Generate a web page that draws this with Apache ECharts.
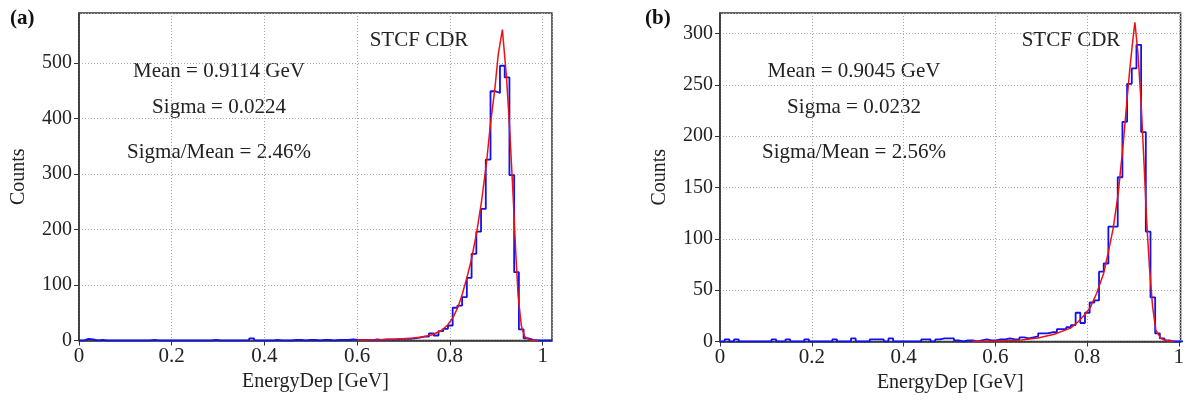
<!DOCTYPE html>
<html>
<head>
<meta charset="utf-8">
<script src="https://cdn.jsdelivr.net/npm/echarts@6/dist/echarts.min.js"></script>
<style>
  html, body { margin: 0; padding: 0; background: #fff; }
  #chart { width: 1187px; height: 400px; }
</style>
</head>
<body>
<div id="chart"></div>
<script>
// Histogram binning: 100 bins over 0 .. 1.02 GeV
const binStart = 0;
const binWidth = 0.0102;

// (a) bin contents
const countsA = [
  0, 3, 2, 0, 1, 0, 0, 0, 0, 0,
  0, 0, 0, 0, 0, 1, 0, 0, 0, 0,
  0, 0, 0, 0, 0, 0, 0, 0, 1, 0,
  0, 0, 0, 0, 0, 0, 4, 0, 0, 0,
  0, 1, 0, 0, 0, 1, 1, 0, 1, 1,
  0, 1, 1, 0, 1, 1, 1, 2, 1, 1,
  1, 0, 2, 1, 2, 2, 2, 3, 3, 3,
  4, 5, 7, 7, 13, 9, 17, 21, 27, 59,
  63, 78, 113, 156, 196, 237, 326, 449, 446, 495,
  474, 298, 123, 20, 4, 1, 0, 0, 0, 0
];

// (b) bin contents
const countsB = [
  0, 2, 0, 2, 0, 0, 0, 0, 0, 0,
  0, 2, 0, 0, 2, 0, 0, 0, 2, 0,
  0, 0, 0, 0, 2, 0, 0, 0, 3, 0,
  0, 0, 2, 2, 2, 0, 3, 0, 0, 0,
  0, 0, 0, 2, 2, 0, 2, 3, 3, 3,
  1, 0, 1, 1, 0, 1, 2, 1, 1, 2,
  2, 3, 2, 2, 4, 3, 4, 5, 8, 8,
  9, 9, 12, 12, 14, 16, 28, 18, 28, 38,
  40, 68, 76, 112, 112, 160, 214, 251, 266, 289,
  204, 107, 43, 8, 3, 1, 0, 0, 0, 0
];

// fitted curves (energy in GeV, counts)
const fitEnergyA = [0.60, 0.65, 0.69, 0.72, 0.74, 0.76, 0.78, 0.795, 0.807, 0.817, 0.826, 0.836, 0.846, 0.857, 0.868, 0.879, 0.887, 0.897, 0.904, 0.913, 0.922, 0.929, 0.936, 0.942, 0.947, 0.954, 0.961, 0.972, 0.99];
const fitCountsA = [1, 1.5, 2.5, 4.5, 6.5, 10, 17, 28, 42, 60, 82, 112, 145, 192, 250, 322, 388, 455, 515, 560, 473, 377, 263, 156, 80, 26, 7, 1, 0];

const fitEnergyB = [0.55, 0.60, 0.657, 0.693, 0.7285, 0.764, 0.78, 0.793, 0.807, 0.821, 0.836, 0.846, 0.857, 0.868, 0.879, 0.886, 0.893, 0.900, 0.9044, 0.911, 0.918, 0.925, 0.930, 0.936, 0.943, 0.950, 0.961, 0.972, 0.99];
const fitCountsB = [0, 0.5, 1.5, 3.5, 7, 13, 19, 25, 33, 47, 66, 86, 110, 144, 193, 229, 264, 294, 311, 281, 232, 167, 118, 73, 34, 11, 3, 1, 0];

const xTicks = [0, 0.2, 0.4, 0.6, 0.8, 1];
const statsA = ['Mean = 0.9114 GeV', 'Sigma = 0.0224', 'Sigma/Mean = 2.46%'];
const statsB = ['Mean = 0.9045 GeV', 'Sigma = 0.0232', 'Sigma/Mean = 2.56%'];
const tagText = 'STCF CDR';

// step outline: one point per lower bin edge, plus the closing edge
function histPoints(counts) {
  const pts = counts.map((c, i) => [binStart + i * binWidth, c]);
  pts.push([binStart + counts.length * binWidth, counts[counts.length - 1]]);
  return pts;
}
function zip(xs, ys) { return xs.map((x, i) => [x, ys[i]]); }

const SERIF = '"Liberation Serif", "DejaVu Serif", serif';
const INK = '#222';
const FRAME = '#333';
const HIST = '#1010f0';
const FIT = '#ee1111';

function xAxisFor(gridIndex, max) {
  return {
    type: 'value', gridIndex, min: 0, max, interval: 0.2,
    name: 'EnergyDep [GeV]', nameLocation: 'middle', nameGap: 31,
    nameTextStyle: { fontFamily: SERIF, fontSize: 20, color: INK },
    axisLine: { show: true, onZero: false, lineStyle: { color: FRAME, width: 1.5 } },
    axisTick: { show: true, inside: false, length: 5, lineStyle: { color: FRAME } },
    axisLabel: {
      fontFamily: SERIF, fontSize: 21, color: INK, margin: 5, showMaxLabel: false,
      formatter: v => xTicks.some(t => Math.abs(t - v) < 1e-6) ? String(+v.toFixed(1)) : ''
    },
    splitLine: { show: true, lineStyle: { color: '#aaa', type: [1, 2], width: 1 } }
  };
}
function yAxisFor(gridIndex, max, interval) {
  return {
    type: 'value', gridIndex, min: 0, max, interval,
    name: 'Counts', nameLocation: 'middle', nameGap: 50,
    nameTextStyle: { fontFamily: SERIF, fontSize: 20, color: INK },
    axisLine: { show: true, onZero: false, lineStyle: { color: FRAME, width: 1.5 } },
    axisTick: { show: true, inside: false, length: 5, lineStyle: { color: FRAME } },
    axisLabel: { fontFamily: SERIF, fontSize: 20, color: INK, margin: 7, showMaxLabel: false },
    splitLine: { show: true, lineStyle: { color: '#aaa', type: [1, 2], width: 1 } }
  };
}

function statTexts(lines, cx, tagX) {
  const ys = [71, 107, 152];
  const items = lines.map((t, i) => ({
    type: 'text',
    style: { text: t, x: cx, y: ys[i], align: 'center', verticalAlign: 'middle',
             font: '21px ' + SERIF, fill: INK }
  }));
  items.push({
    type: 'text',
    style: { text: tagText, x: tagX, y: 40, align: 'center', verticalAlign: 'middle',
             font: '21px ' + SERIF, fill: INK }
  });
  return items;
}

const chart = echarts.init(document.getElementById('chart'), null, { renderer: 'canvas' });
chart.setOption({
  animation: false,
  backgroundColor: '#fff',
  grid: [
    { left: 79, top: 13, right: 635, bottom: 59.5, show: true, borderColor: FRAME, borderWidth: 1.5, backgroundColor: 'transparent' },
    { left: 720, top: 13, right: 1, bottom: 58.5, show: true, borderColor: FRAME, borderWidth: 1.5, backgroundColor: 'transparent' }
  ],
  // panel (b) runs off the right edge of the page just past 1 GeV
  xAxis: [xAxisFor(0, 1.02), xAxisFor(1, 1.004)],
  yAxis: [yAxisFor(0, 590, 100), yAxisFor(1, 320, 50)],
  series: [
    { type: 'line', xAxisIndex: 0, yAxisIndex: 0, step: 'end', symbol: 'none',
      data: histPoints(countsA), lineStyle: { color: HIST, width: 1.8 }, z: 3 },
    { type: 'line', xAxisIndex: 0, yAxisIndex: 0, symbol: 'none', smooth: false,
      data: zip(fitEnergyA, fitCountsA), lineStyle: { color: FIT, width: 1.5 }, z: 4 },
    { type: 'line', xAxisIndex: 1, yAxisIndex: 1, step: 'end', symbol: 'none',
      data: histPoints(countsB), lineStyle: { color: HIST, width: 1.8 }, z: 3 },
    { type: 'line', xAxisIndex: 1, yAxisIndex: 1, symbol: 'none', smooth: false,
      data: zip(fitEnergyB, fitCountsB), lineStyle: { color: FIT, width: 1.5 }, z: 4 }
  ],
  graphic: [
    { type: 'text', style: { text: '(a)', x: 10, y: 19, verticalAlign: 'middle', font: 'bold 21px ' + SERIF, fill: '#111' } },
    { type: 'text', style: { text: '(b)', x: 645, y: 19, verticalAlign: 'middle', font: 'bold 21px ' + SERIF, fill: '#111' } },
    ...statTexts(statsA, 219, 419),
    ...statTexts(statsB, 854, 1071)
  ]
});
</script>
</body>
</html>
